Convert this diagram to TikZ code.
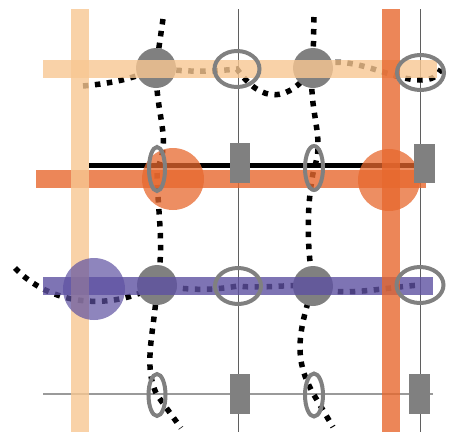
\documentclass[tikz,border=0pt]{standalone}
\usepackage{xcolor}
\usetikzlibrary{shapes.geometric, backgrounds}

\definecolor{peachc}{RGB}{248,199,146}
\definecolor{orangec}{RGB}{231,104,46}
\definecolor{purplec}{RGB}{94,81,161}
\definecolor{jointc}{RGB}{128,128,128}
\definecolor{hairc}{RGB}{95,95,95}

\begin{document}
\begin{tikzpicture}[x=1pt, y=-1pt,
	joint/.style={circle, fill=jointc, inner sep=0pt, minimum size=40pt},
	ring/.style={ellipse, draw=jointc, line width=4pt, inner sep=0pt},
	pad/.style={rectangle, fill=jointc, inner sep=0pt, minimum width=20pt, minimum height=40pt},
	blob/.style={circle, inner sep=0pt, minimum size=62pt, fill opacity=.75},
	band/.style={line width=18pt, opacity=.8},
	hairline/.style={line width=1pt, hairc},
	dotline/.style={line width=5.5pt, dash pattern=on 5.5pt off 6.5pt}]
	\useasboundingbox (0,0) rectangle (456,432);
	\node[joint] (joint1) at (156,68) {};
	\node[joint] (joint2) at (313,68) {};
	\node[joint] (joint3) at (157,285) {};
	\node[joint] (joint4) at (313,286) {};
	\draw[band, peachc] (43,69) -- (437,69);
	\draw[band, orangec] (36,178.5) -- (426,178.5);
	\draw[band, purplec] (43,285.5) -- (433,285.5);
	\draw[band, peachc] (80,9) -- (80,432);
	\draw[band, orangec] (391,9) -- (391,432);
	\node[blob, fill=orangec] (blob1) at (173,179) {};
	\node[blob, fill=orangec] (blob2) at (389,180) {};
	\node[blob, fill=purplec, fill opacity=.7] (blob3) at (94,289) {};
	\node[ring, minimum width=45pt, minimum height=36pt] (ring1) at (237,69) {};
	\node[ring, minimum width=47pt, minimum height=35pt] (ring2) at (420.5,72.5) {};
	\node[ring, minimum width=16pt, minimum height=44pt] (ring3) at (157,169) {};
	\node[ring, minimum width=18pt, minimum height=44pt] (ring4) at (314,168) {};
	\node[ring, minimum width=46pt, minimum height=36pt] (ring5) at (238,286) {};
	\node[ring, minimum width=47pt, minimum height=36pt] (ring6) at (420,285) {};
	\node[ring, minimum width=17pt, minimum height=42pt] (ring7) at (157,395) {};
	\node[ring, minimum width=18pt, minimum height=43pt] (ring8) at (314,395) {};
	\node[pad] (pad1) at (240,163) {};
	\node[pad, minimum width=21pt, minimum height=39pt] (pad2) at (424.5,163.5) {};
	\node[pad] (pad3) at (240,394) {};
	\node[pad, minimum width=21pt] (pad4) at (419.5,394) {};
	\coordinate (top1) at (163,19);
	\coordinate (top2) at (314,17);
	\coordinate (end1) at (181,428);
	\coordinate (end2) at (333,427);
	\coordinate (west1) at (83,86);
	\coordinate (west3) at (15,268);
	\coordinate (dip1) at (420,80);
	\coordinate (east1) at (441,69);
	\coordinate (wire1) at (89,165.5);
	\coordinate (wire2) at (415,165.5);
	\coordinate (base1) at (43,394);
	\coordinate (base2) at (433,394);
	\begin{pgfonlayer}{background}
		\draw[hairline] (238,9) -- (238,432);
		\draw[hairline] (420,9) -- (420,432);
		\draw[hairline, jointc!80, line width=1.5pt] (base1) -- (base2);
		\draw[line width=5pt] (wire1) -- (wire2);
		\draw[dotline] (top1) -- (joint1.center)
			.. controls +(0,50) and +(15,-30) .. (ring3.center)
			.. controls +(0,40) and +(8,-40) .. (joint3.center)
			.. controls +(-2,45) and +(-15,-30) .. (ring7.center) -- (end1);
		\draw[dotline] (top2) -- (joint2.center)
			.. controls +(-6,40) and +(12,-30) .. (ring4.center)
			.. controls +(-8,40) and +(-6,-40) .. (joint4.center)
			.. controls +(-16,50) and +(-20,-35) .. (ring8.center) -- (end2);
		\draw[dotline] (west1) .. controls +(32,-3) and +(-21,10) .. (joint1.center)
			.. controls +(30,4) and +(-30,3) .. (ring1.center)
			.. controls +(25,35) and +(-25,35) .. (joint2.center)
			.. controls +(32,-18) and +(-30,0) .. (dip1)
			.. controls +(12,0) and +(-4,8) .. (east1);
		\draw[dotline] (west3) .. controls +(35,37) and +(-47,27) .. (joint3.center)
			.. controls +(30,5) and +(-30,5) .. (ring5.center)
			.. controls +(25,3) and +(-25,-2) .. (joint4.center)
			.. controls +(25,12) and +(-40,3) .. (ring6.center);
	\end{pgfonlayer}
\end{tikzpicture}
\end{document}
